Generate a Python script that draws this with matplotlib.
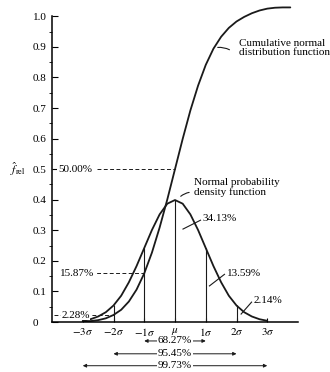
import matplotlib
matplotlib.use("Agg")
import matplotlib.pyplot as plt
from matplotlib.ticker import FixedLocator, FixedFormatter

plt.rcParams['font.family'] = ['Liberation Serif', 'DejaVu Serif']
plt.rcParams['mathtext.fontset'] = 'stix'
plt.rcParams['font.size'] = 8

# density curve (in sigma units)
pdf_x = [-3, -2.75, -2.5, -2.25, -2, -1.75, -1.5, -1.25, -1, -0.75, -0.5, -0.25, 0,
         0.25, 0.5, 0.75, 1, 1.25, 1.5, 1.75, 2, 2.25, 2.5, 2.75, 3]
pdf_y = [0.004, 0.009, 0.018, 0.032, 0.054, 0.086, 0.130, 0.183, 0.242, 0.301, 0.352, 0.387, 0.399,
         0.387, 0.352, 0.301, 0.242, 0.183, 0.130, 0.086, 0.054, 0.032, 0.018, 0.009, 0.004]

# cumulative curve
cdf_x = [-3, -2.75, -2.5, -2.25, -2, -1.75, -1.5, -1.25, -1, -0.75, -0.5, -0.25, 0,
         0.25, 0.5, 0.75, 1, 1.25, 1.5, 1.75, 2, 2.25, 2.5, 2.75, 3, 3.25, 3.5, 3.75]
cdf_y = [0.001, 0.003, 0.006, 0.012, 0.023, 0.040, 0.067, 0.106, 0.159, 0.227, 0.309, 0.401, 0.500,
         0.599, 0.692, 0.773, 0.841, 0.894, 0.933, 0.962, 0.983, 0.998, 1.010, 1.019, 1.025,
         1.028, 1.029, 1.029]

# vertical lines at sigma marks
vlines_x = [-2, -1, 0, 1, 2]
vlines_top = [0.054, 0.242, 0.399, 0.242, 0.054]

xtick_pos = [-3, -2, -1, 0, 1, 2, 3]
xtick_lab = [r'$-3\sigma$', r'$-2\sigma$', r'$-1\sigma$', r'$\mu$', r'$1\sigma$', r'$2\sigma$', r'$3\sigma$']
ytick_pos = [0, 0.1, 0.2, 0.3, 0.4, 0.5, 0.6, 0.7, 0.8, 0.9, 1.0]
ytick_lab = ['0', '0.1', '0.2', '0.3', '0.4', '0.5', '0.6', '0.7', '0.8', '0.9', '1.0']

# cumulative levels marked with dashed lines: (label, level, x where it meets the curve)
levels = [('50.00%', 0.5, 0), ('15.87%', 0.1587, -1), ('2.28%', 0.0228, -2)]

# area percentages between sigma marks
areas = ['34.13%', '13.59%', '2.14%']
# spans below the axis
spans = [('68.27%', 1), ('95.45%', 2), ('99.73%', 3)]

ink = '#1a1a1a'

fig = plt.figure(figsize=(3.3, 3.72), dpi=100)
ax = fig.add_axes([52/330, 50/372, 246/330, 321/372])
ax.set_xlim(-4, 4)
ax.set_ylim(0, 1.05)

ax.plot(pdf_x, pdf_y, color=ink, lw=1.3, solid_capstyle='round')
ax.plot(cdf_x, cdf_y, color=ink, lw=1.3, solid_capstyle='round')
ax.vlines(vlines_x, 0, vlines_top, color=ink, lw=0.8)

# spines / ticks
for s in ['top', 'right']:
    ax.spines[s].set_visible(False)
ax.spines['left'].set_bounds(0, 1.0)
ax.spines['left'].set_linewidth(1.1)
ax.spines['bottom'].set_linewidth(1.1)

ax.yaxis.set_major_locator(FixedLocator(ytick_pos))
ax.yaxis.set_major_formatter(FixedFormatter(ytick_lab))
ax.yaxis.set_minor_locator(FixedLocator([v + 0.05 for v in ytick_pos[:-1]]))
ax.tick_params(axis='y', which='major', direction='in', length=4, width=0.8, pad=14)
ax.tick_params(axis='y', which='minor', direction='out', length=2, width=0.6)
for lab in ax.get_yticklabels():
    lab.set_ha('left')

ax.xaxis.set_major_locator(FixedLocator(xtick_pos))
ax.xaxis.set_major_formatter(FixedFormatter(xtick_lab))
ax.tick_params(axis='x', which='major', direction='in', length=3, width=0.8, pad=3, labelsize=8)

ax.text(-5.37, 0.5, r'$\hat{f}_{\mathrm{rel}}$', ha='left', va='center', fontsize=8.5)

# dashed level lines
dash = (0, (4, 2.5))
text_x = [-3.81, -3.75, -3.7]
line_start = [-2.55, -2.95, -3.95]
for (lab, lev, xe), tx, xs in zip(levels, text_x, line_start):
    ax.plot([xs, xe], [lev, lev], color=ink, lw=0.7, linestyle=dash)
    ax.text(tx, lev, lab, ha='left', va='center', fontsize=8, zorder=5,
            bbox=dict(facecolor='white', edgecolor='none', pad=0.5))

# curve labels
ax.text(2.08, 0.895, 'Cumulative normal\ndistribution function', ha='left', va='center',
        fontsize=8, linespacing=1.0)
ax.annotate('', xy=(1.30, 0.897), xytext=(1.85, 0.886),
            arrowprops=dict(arrowstyle='-', lw=0.8, color=ink, connectionstyle='arc3,rad=0.2'))
ax.text(0.62, 0.44, 'Normal probability\ndensity function', ha='left', va='center',
        fontsize=8, linespacing=1.0)
ax.annotate('', xy=(0.12, 0.405), xytext=(0.55, 0.425),
            arrowprops=dict(arrowstyle='-', lw=0.8, color=ink, connectionstyle='arc3,rad=0.2'))

# area labels with short leader lines
area_text = [(0.91, 0.337), (1.69, 0.16), (2.57, 0.069)]
area_lead = [(0.26, 0.304), (1.12, 0.118), (2.15, 0.026)]
for lab, (tx, ty), (lx, ly) in zip(areas, area_text, area_lead):
    ax.text(tx, ty, lab, ha='left', va='center', fontsize=8)
    ax.plot([lx, tx - 0.08], [ly, ty - 0.004], color=ink, lw=0.8)

# spans under the axis
span_y = [-0.062, -0.104, -0.143]
for (lab, k), yy in zip(spans, span_y):
    for end in (-k, k):
        ax.annotate('', xy=(end, yy), xytext=(0, yy), annotation_clip=False,
                    arrowprops=dict(arrowstyle='-|>', lw=0.7, color=ink, mutation_scale=5,
                                    shrinkA=0, shrinkB=0))
    ax.text(0, yy, lab, ha='center', va='center', fontsize=8, zorder=6, clip_on=False,
            bbox=dict(facecolor='white', edgecolor='none', pad=0.8))

fig.savefig('out.png', dpi=100)
